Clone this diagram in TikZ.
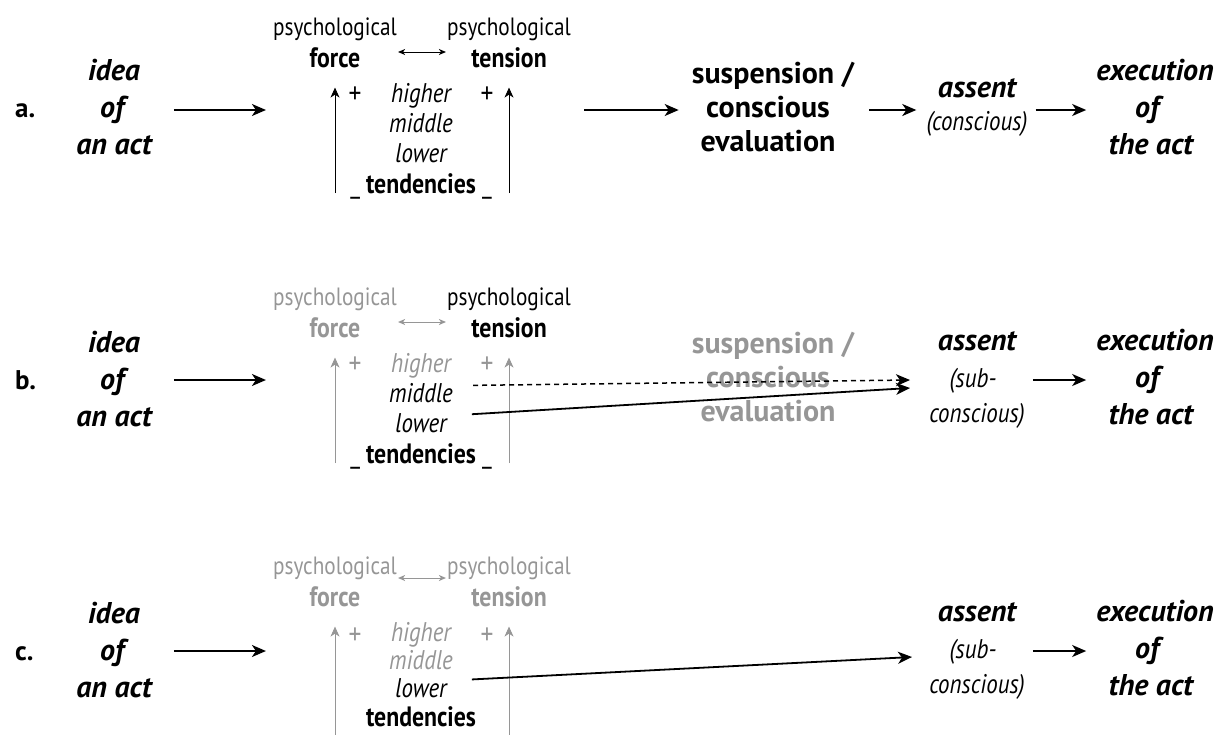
\documentclass[tikz,border=0pt]{standalone}
\usepackage{fontspec}
\setmainfont{PT Sans}
\newfontfamily\condfont{PT Sans}[FakeStretch=0.85]
\usetikzlibrary{arrows.meta}
\definecolor{faded}{RGB}{150,150,150}
\newcommand{\lowbar}{{\mdseries\_}}
\tikzset{
  every node/.style={inner sep=0pt},
  rowlab/.style={font=\fontsize{27}{30}\selectfont\bfseries, anchor=base west},
  stage/.style={font=\fontsize{30}{36}\selectfont\bfseries\itshape, anchor=base},
  evalt/.style={font=\fontsize{30}{36}\selectfont\bfseries, anchor=base},
  small/.style={font=\condfont\fontsize{25}{30}\selectfont, anchor=base},
  smallb/.style={font=\condfont\fontsize{28}{30}\selectfont\bfseries, anchor=base},
  smalli/.style={font=\condfont\fontsize{27}{30}\selectfont\itshape, anchor=base},
  plus/.style={font=\condfont\fontsize{30}{30}\selectfont, anchor=center},
  flow/.style={line width=1.8pt, -{Stealth[length=14pt,width=12pt,inset=4pt]}},
  rise/.style={line width=0.9pt, -{Stealth[length=10pt,width=9pt,inset=3pt]}},
  mutual/.style={line width=1pt, {Stealth[length=7pt,width=6pt,inset=2pt]}-{Stealth[length=7pt,width=6pt,inset=2pt]}, shorten <=1pt, shorten >=1pt},
}
\begin{document}
\begin{tikzpicture}[x=1pt,y=-1pt]
\useasboundingbox (0,0) rectangle (1225,734);

% ---------- row a: conscious deliberation ----------
\begin{scope}
\coordinate (ya) at (0,110);
\node[rowlab] (labA) at (15,117) {a.};
\node[stage] (ideaA) at (114,80) {idea};
\node[stage] (ofA) at (112,117) {of};
\node[stage] (actA) at (114,154) {an act};
\node[small] (psyfA) at (335,35) {psychological};
\node[smallb] (forceA) at (335,67) {force};
\node[small] (psytA) at (509,35) {psychological};
\node[smallb] (tensA) at (509,67) {tension};
\node[plus] (plfA) at (355,95) {+};
\node[plus] (pltA) at (487,95) {+};
\node[smalli] (hiA) at (421,102) {higher};
\node[smalli] (midA) at (421,132) {middle};
\node[smalli] (lowA) at (421,162) {lower};
\node[smallb] (tendA) at (421,193) {\lowbar\ tendencies \lowbar};
\node[evalt] (suspA) at (773,83) {suspension /};
\node[evalt] (consA) at (768,117) {conscious};
\node[evalt] (evalA) at (768,151) {evaluation};
\node[stage] (assentA) at (977,97) {assent};
\node[smalli] (assconA) at (977,130) {(conscious)};
\node[stage] (execA) at (1155,80) {execution};
\node[stage] (execofA) at (1147,117) {of};
\node[stage] (theactA) at (1151,154) {the act};
\draw[flow, shorten <=22pt, shorten >=7pt] (actA.east |- ya) -- (psyfA.west |- ya);
\draw[mutual] (psyfA.east |- 0,52) -- (psytA.west |- 0,52);
\draw[rise, shorten >=20pt] (forceA.south |- tendA.base) -- (forceA.south);
\draw[rise, shorten >=20pt] (tensA.south |- tendA.base) -- (tensA.south);
\draw[flow, shorten <=13pt, shorten >=13pt] (psytA.east |- ya) -- (suspA.west |- ya);
\draw[flow, shorten <=15pt, shorten >=10pt] (suspA.east |- ya) -- (assconA.west |- ya);
\draw[flow, shorten <=8pt, shorten >=10pt] (assconA.east |- ya) -- (execA.west |- ya);
\end{scope}

% ---------- row b: subconscious assent, evaluation bypassed ----------
\begin{scope}[shift={(0,270)}]
\coordinate (yb) at (0,110);
\node[rowlab] (labB) at (15,119) {b.};
\node[stage] (ideaB) at (114,82) {idea};
\node[stage] (ofB) at (112,119) {of};
\node[stage] (actB) at (114,156) {an act};
\node[small, faded] (psyfB) at (335,35) {psychological};
\node[smallb, faded] (forceB) at (335,67) {force};
\node[small] (psytB) at (509,35) {psychological};
\node[smallb] (tensB) at (509,67) {tension};
\node[plus, faded] (plfB) at (355,95) {+};
\node[plus, faded] (pltB) at (487,95) {+};
\node[smalli, faded] (hiB) at (421,102) {higher};
\node[smalli] (midB) at (421,132) {middle};
\node[smalli] (lowB) at (421,162) {lower};
\node[smallb] (tendB) at (421,193) {\lowbar\ tendencies \lowbar};
\node[evalt, faded] (suspB) at (773,83) {suspension /};
\node[evalt, faded] (consB) at (768,117) {conscious};
\node[evalt, faded] (evalB) at (768,151) {evaluation};
\node[stage] (assentB) at (977,80) {assent};
\node[smalli] (subB) at (973,117) {(sub-};
\node[smalli] (subconB) at (977,152) {conscious)};
\node[stage] (execB) at (1155,80) {execution};
\node[stage] (execofB) at (1147,117) {of};
\node[stage] (theactB) at (1151,154) {the act};
\coordinate (midinB) at (910,110);
\coordinate (lowinB) at (910,118);
\draw[flow, shorten <=22pt, shorten >=7pt] (actB.east |- yb) -- (psyfB.west |- yb);
\draw[mutual, faded] (psyfB.east |- 0,52) -- (psytB.west |- 0,52);
\draw[rise, faded, shorten >=20pt] (forceB.south |- tendB.base) -- (forceB.south);
\draw[rise, faded, shorten >=20pt] (tensB.south |- tendB.base) -- (tensB.south);
\draw[flow, line width=1.5pt, dash pattern=on 5pt off 4pt, shorten <=20pt] (midB.east) ++(0,-7) -- (midinB);
\draw[flow, shorten <=25pt] (lowB.east) ++(0,-7) -- (lowinB);
\draw[flow, shorten <=8pt, shorten >=10pt] (subconB.east |- yb) -- (execB.west |- yb);
\end{scope}

% ---------- row c: lower tendencies act directly ----------
\begin{scope}[shift={(0,541)}]
\coordinate (yc) at (0,110);
\node[rowlab] (labC) at (15,119) {c.};
\node[stage] (ideaC) at (114,82) {idea};
\node[stage] (ofC) at (112,119) {of};
\node[stage] (actC) at (114,156) {an act};
\node[small, faded] (psyfC) at (335,33) {psychological};
\node[smallb, faded] (forceC) at (335,65) {force};
\node[small, faded] (psytC) at (509,33) {psychological};
\node[smallb, faded] (tensC) at (509,65) {tension};
\node[plus, faded] (plfC) at (355,95) {+};
\node[plus, faded] (pltC) at (487,95) {+};
\node[smalli, faded] (hiC) at (421,100) {higher};
\node[smalli, faded] (midC) at (421,128) {middle};
\node[smalli] (lowC) at (421,156) {lower};
\node[smallb] (tendC) at (421,185) {tendencies};
\node[stage] (assentC) at (977,80) {assent};
\node[smalli] (subC) at (973,117) {(sub-};
\node[smalli] (subconC) at (977,152) {conscious)};
\node[stage] (execC) at (1155,80) {execution};
\node[stage] (execofC) at (1147,117) {of};
\node[stage] (theactC) at (1151,154) {the act};
\coordinate (lowinC) at (912,116);
\coordinate (baseC) at (0,200);
\draw[flow, shorten <=22pt, shorten >=7pt] (actC.east |- yc) -- (psyfC.west |- yc);
\draw[mutual, faded] (psyfC.east |- 0,37) -- (psytC.west |- 0,37);
\draw[rise, faded, shorten >=20pt] (forceC.south |- baseC) -- (forceC.south);
\draw[rise, faded, shorten >=20pt] (tensC.south |- baseC) -- (tensC.south);
\draw[flow, shorten <=25pt] (lowC.east) ++(0,-7) -- (lowinC);
\draw[flow, shorten <=8pt, shorten >=10pt] (subconC.east |- yc) -- (execC.west |- yc);
\end{scope}
\end{tikzpicture}
\end{document}
